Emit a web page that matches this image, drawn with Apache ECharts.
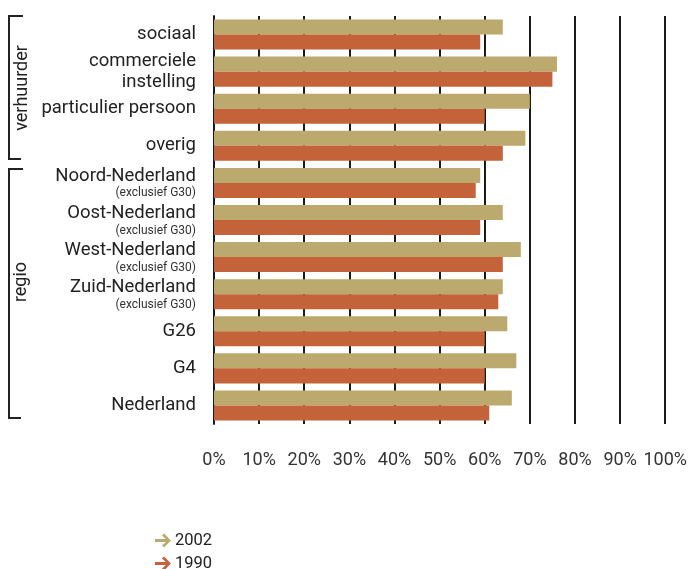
<!DOCTYPE html>
<html>
<head>
<meta charset="utf-8">
<script src="https://cdn.jsdelivr.net/npm/echarts@6/dist/echarts.min.js"></script>
<style>
  html, body { margin: 0; padding: 0; background: #fff; }
  #chart { width: 690px; height: 569px; }
</style>
</head>
<body>
<div id="chart"></div>
<script>
// Categories (top to bottom); text after "|" is drawn in smaller type
const categories = [
  'sociaal',
  'commerciele\ninstelling',
  'particulier persoon',
  'overig',
  'Noord-Nederland|(exclusief G30)',
  'Oost-Nederland|(exclusief G30)',
  'West-Nederland|(exclusief G30)',
  'Zuid-Nederland|(exclusief G30)',
  'G26',
  'G4',
  'Nederland'
];

// Share in percent
const values2002 = [64, 76, 70, 69, 59, 64, 68, 64, 65, 67, 66];
const values1990 = [59, 75, 60, 64, 58, 59, 64, 63, 60, 60, 61];

const seriesNames = ['2002', '1990'];
const tickValues = [0, 10, 20, 30, 40, 50, 60, 70, 80, 90, 100];

const colors = ['#BCA96D', '#C4623A'];
const FONT = 'Roboto';
// bold right-pointing arrow used as legend marker
const arrowIcon = 'path://M0,3.6 L10.2,3.6 L6.6,0.4 L8.6,-1.6 L15,5 L8.6,11.6 L6.6,9.6 L10.2,6.4 L0,6.4 Z';

const chart = echarts.init(document.getElementById('chart'), null, { renderer: 'canvas' });

function formatCategory(v) {
  if (v.indexOf('|') >= 0) {
    const parts = v.split('|');
    return '{main|' + parts[0] + '}\n{sub|' + parts[1] + '}';
  }
  return v.split('\n').map(s => '{main|' + s + '}').join('\n');
}

const option = {
  animation: false,
  backgroundColor: '#ffffff',
  textStyle: { fontFamily: FONT },
  grid: { left: 214, right: 21, top: 16, bottom: 145, containLabel: false },
  legend: {
    orient: 'vertical',
    left: 155,
    top: 532,
    height: 60,
    padding: 0,
    itemWidth: 18,
    itemHeight: 14,
    itemGap: 6,
    data: seriesNames.map((n, i) => ({ name: n, icon: arrowIcon, itemStyle: { color: colors[i] } })),
    textStyle: { fontFamily: FONT, fontSize: 16.5, color: '#222', lineHeight: 16, padding: [0, 0, 0, -2] }
  },
  xAxis: {
    type: 'value',
    min: 0,
    max: 100,
    interval: 10,
    axisLine: { show: false },
    axisTick: { show: false },
    splitLine: { show: true, lineStyle: { color: '#1a1a1a', width: 2 } },
    axisLabel: {
      margin: 27,
      fontFamily: FONT,
      fontSize: 18,
      color: '#333',
      formatter: v => (tickValues.indexOf(v) >= 0 ? v + '%' : '')
    }
  },
  yAxis: {
    type: 'category',
    inverse: true,
    data: categories,
    axisLine: { show: true, lineStyle: { color: '#1a1a1a', width: 2 } },
    axisTick: { show: false },
    splitLine: { show: false },
    axisLabel: {
      margin: 18,
      align: 'right',
      formatter: formatCategory,
      rich: {
        main: { fontFamily: FONT, fontSize: 18.5, color: '#222', lineHeight: 21, align: 'right' },
        sub: { fontFamily: FONT, fontSize: 12, color: '#333', lineHeight: 13, align: 'right' }
      }
    }
  },
  series: [
    {
      name: seriesNames[0],
      type: 'bar',
      data: values2002,
      barGap: '0%',
      barCategoryGap: '19%',
      itemStyle: { color: colors[0] },
      z: 3
    },
    {
      name: seriesNames[1],
      type: 'bar',
      data: values1990,
      barGap: '0%',
      barCategoryGap: '19%',
      itemStyle: { color: colors[1] },
      z: 3
    }
  ],
  graphic: [
    // group bracket: verhuurder
    {
      type: 'polyline',
      shape: { points: [[23, 16], [9, 16], [9, 159], [21, 159]] },
      style: { stroke: '#222', lineWidth: 2, fill: null }
    },
    {
      type: 'text',
      x: 22, y: 88,
      rotation: Math.PI / 2,
      style: { text: 'verhuurder', font: '18px ' + FONT, fill: '#222', align: 'center', verticalAlign: 'middle' }
    },
    // group bracket: regio
    {
      type: 'polyline',
      shape: { points: [[23, 169], [9, 169], [9, 418], [21, 418]] },
      style: { stroke: '#222', lineWidth: 2, fill: null }
    },
    {
      type: 'text',
      x: 21, y: 282,
      rotation: Math.PI / 2,
      style: { text: 'regio', font: '18px ' + FONT, fill: '#222', align: 'center', verticalAlign: 'middle' }
    }
  ]
};

chart.setOption(option);
</script>
</body>
</html>
